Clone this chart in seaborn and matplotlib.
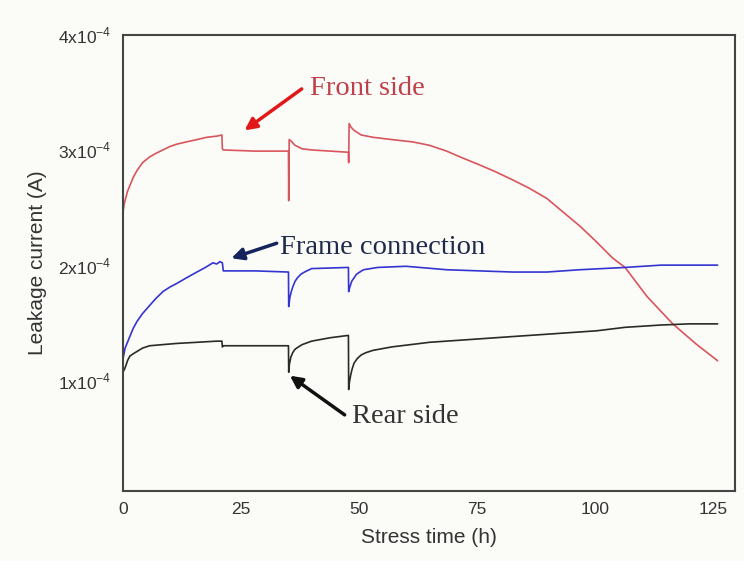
import seaborn as sns
import matplotlib.pyplot as plt
import pandas as pd

# values, current in units of 1e-4 A
t_front = [0, 0.02, 0.3, 1.0, 1.5, 2.2, 3.0, 4.2, 5.7, 7.0, 8.5, 10.0, 11.4, 13.5, 15.7, 17.8, 19.9, 21.0, 21.1,
           21.3, 28, 35.1, 35.15, 35.25, 35.6, 36.5, 38, 40, 47.8, 47.85, 47.95, 48.3, 49, 50.5, 53, 57, 61.4,
           65, 68.6, 72, 75.6, 79, 82.6, 86, 89.8, 93, 96.8, 100.4, 103.8, 106.4, 111, 116.5, 121.6, 126]
i_front = [1.80, 2.45, 2.53, 2.64, 2.69, 2.76, 2.82, 2.89, 2.94, 2.97, 3.00, 3.03, 3.05, 3.07, 3.09, 3.11, 3.12, 3.13, 3.01,
           3.00, 2.99, 2.99, 2.56, 3.09, 3.08, 3.04, 3.01, 3.00, 2.98, 2.89, 3.23, 3.20, 3.17, 3.13, 3.11, 3.09, 3.07,
           3.04, 2.99, 2.93, 2.87, 2.81, 2.74, 2.67, 2.58, 2.47, 2.34, 2.20, 2.06, 1.98, 1.73, 1.49, 1.31, 1.17]

t_frame = [0, 0.02, 0.5, 1.0, 1.5, 2.2, 3.0, 4.2, 5.7, 7.0, 8.5, 10.0, 11.4, 13.5, 15.7, 17.5, 19.1, 19.9, 20.6,
           21.1, 21.3, 28, 35.1, 35.15, 35.4, 35.7, 36, 36.5, 37, 37.7, 38.5, 40, 47.8, 47.85, 48.1, 48.5, 49,
           49.5, 50.2, 51, 54, 60, 68.6, 82.6, 89.8, 96.8, 106.4, 114, 126]
i_frame = [0.05, 1.18, 1.28, 1.33, 1.38, 1.45, 1.51, 1.58, 1.65, 1.71, 1.77, 1.81, 1.84, 1.89, 1.94, 1.98, 2.02, 2.01, 2.03,
           2.02, 1.95, 1.95, 1.94, 1.64, 1.72, 1.77, 1.81, 1.86, 1.89, 1.92, 1.94, 1.97, 1.98, 1.77, 1.81, 1.86, 1.89,
           1.92, 1.94, 1.96, 1.98, 1.99, 1.96, 1.94, 1.94, 1.96, 1.98, 2.00, 2.00]

t_rear = [0, 0.02, 0.3, 0.6, 1.0, 1.5, 2.2, 3.0, 4.2, 5.7, 8.5, 11.4, 15.7, 19.9, 21.0, 21.1, 21.3, 28, 35.1, 35.15,
          35.3, 35.6, 36, 36.5, 37.2, 38, 40, 44, 47.8, 47.85, 48.0, 48.3, 48.6, 49, 49.7, 50.5, 51.5, 53, 57, 65,
          75.6, 82.6, 89.8, 100.4, 106.4, 114, 120, 126]
i_rear = [0.02, 1.07, 1.09, 1.12, 1.17, 1.21, 1.23, 1.25, 1.28, 1.30, 1.31, 1.32, 1.33, 1.34, 1.34, 1.29, 1.30, 1.30, 1.30, 1.07,
          1.14, 1.20, 1.24, 1.27, 1.29, 1.31, 1.34, 1.37, 1.39, 0.92, 0.98, 1.05, 1.10, 1.15, 1.19, 1.22, 1.24, 1.26, 1.29, 1.33,
          1.36, 1.38, 1.40, 1.43, 1.46, 1.48, 1.49, 1.49]

x_ticks = [0, 25, 50, 75, 100, 125]
y_ticks = [1, 2, 3, 4]

sns.set_style("white")
plt.rcParams["font.family"] = ["Liberation Sans", "DejaVu Sans"]
plt.rcParams["mathtext.fontset"] = "custom"
plt.rcParams["mathtext.rm"] = "Liberation Sans"

fig = plt.figure(figsize=(7.44, 5.61), dpi=100, facecolor="#fbfbf8")
ax = fig.add_axes([0.165, 0.125, 0.823, 0.813])
ax.set_facecolor("#fbfbf8")

series = [("front", t_front, i_front, "#d9555c"),
          ("frame", t_frame, i_frame, "#3434d0"),
          ("rear", t_rear, i_rear, "#2a2a2a")]
for name, t, cur, col in series:
    df = pd.DataFrame({"t": t, "I": [v * 1e-4 for v in cur]})
    sns.lineplot(data=df, x="t", y="I", estimator=None, sort=False,
                 color=col, linewidth=1.2, ax=ax)

ax.set_xlim(0, 129.7)
ax.set_ylim(0.04e-4, 4e-4)
ax.set_xticks(x_ticks)
ax.set_xticklabels([str(v) for v in x_ticks], fontsize=12.5, color="#333333")
ax.set_yticks([v * 1e-4 for v in y_ticks])
ax.set_yticklabels([f"{v}x10$^{{-4}}$" for v in y_ticks], fontsize=12.5, color="#333333")
ax.tick_params(length=0, pad=8)

ax.set_xlabel("Stress time (h)", fontsize=15, color="#333333", labelpad=8)
ax.set_ylabel("Leakage current (A)", fontsize=15, color="#333333", labelpad=8)

for s in ax.spines.values():
    s.set_color("#444444")
    s.set_linewidth(1.5)

# labels with arrows
serif = ["Liberation Serif", "DejaVu Serif"]
arrow = "-|>,head_length=0.7,head_width=0.35"
ax.annotate("", xy=(25.8, 3.17e-4), xytext=(37.9, 3.53e-4),
            arrowprops=dict(arrowstyle=arrow, color="#e01818", lw=2.5, shrinkA=0, shrinkB=0))
ax.text(39.6, 3.53e-4, "Front side", family=serif, fontsize=20.5, color="#c0404a", va="center")

ax.annotate("", xy=(23.0, 2.06e-4), xytext=(32.6, 2.19e-4),
            arrowprops=dict(arrowstyle=arrow, color="#15245a", lw=2.5, shrinkA=0, shrinkB=0))
ax.text(33.3, 2.15e-4, "Frame connection", family=serif, fontsize=20.5, color="#1e2a4a", va="center")

ax.annotate("", xy=(35.4, 1.04e-4), xytext=(47.0, 0.70e-4),
            arrowprops=dict(arrowstyle=arrow, color="#111111", lw=2.5, shrinkA=0, shrinkB=0))
ax.text(48.5, 0.69e-4, "Rear side", family=serif, fontsize=20.5, color="#333333", va="center")

plt.savefig("out.png", dpi=100, facecolor=fig.get_facecolor())
